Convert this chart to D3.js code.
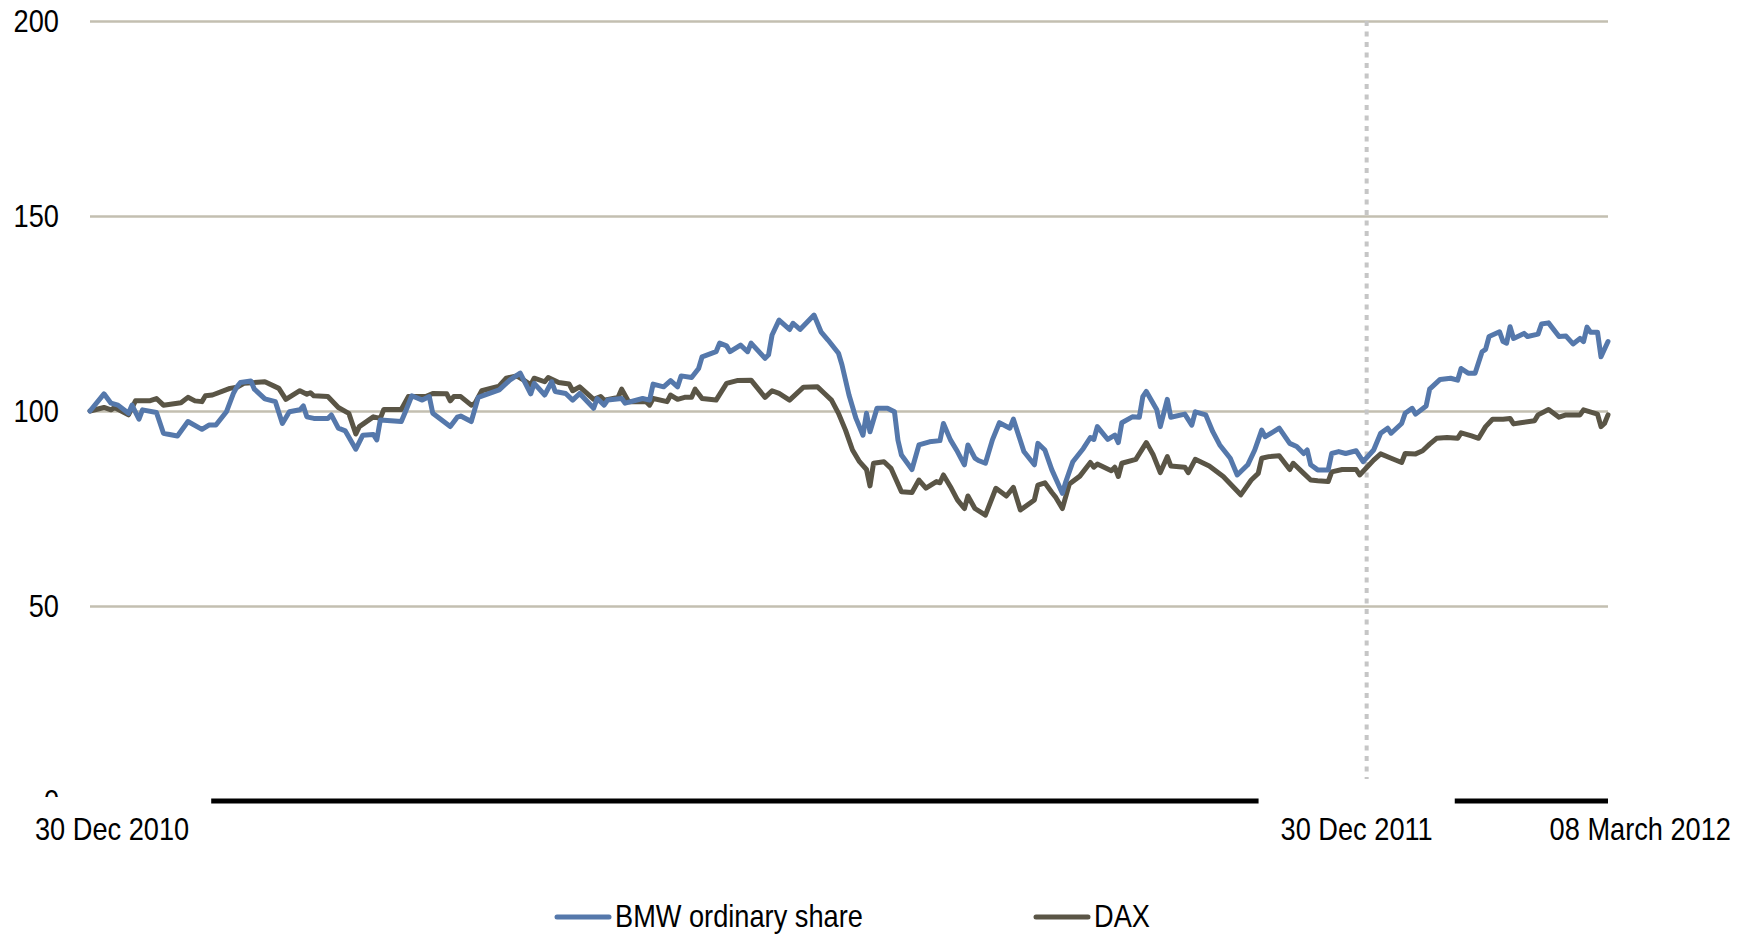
<!DOCTYPE html>
<html>
<head>
<meta charset="utf-8">
<script src="https://cdn.jsdelivr.net/npm/d3@7"></script>
<style>
  html, body { margin: 0; padding: 0; background: #fff; }
  svg { display: block; }
  .t { font-family: "Liberation Sans", Arial, sans-serif; fill: #000; }
</style>
</head>
<body>
<svg id="chart" width="1753" height="935"></svg>
<script>
// ---- data (days after 30 Dec 2010, index value) ----
const startDate = new Date(2010, 11, 30);
const endDate = new Date(2012, 2, 8);

const bmwDays = [0,4,6,8,11,12,14,15,19,21,22,25,28,32,34,36,39,41,42,43,46,47,50,53,55,57,60,61,62,64,68,69,71,73,76,78,81,82,83,89,90,92,95,97,98,103,105,106,109,111,117,120,123,126,127,130,132,133,136,138,140,144,145,147,148,152,153,158,160,161,164,166,168,169,172,174,175,179,180,182,183,186,188,189,193,194,195,197,200,201,203,207,209,211,214,215,217,219,221,222,223,225,228,230,231,232,235,237,240,243,244,246,248,250,251,253,254,256,258,260,263,264,267,270,271,273,275,278,279,281,284,286,287,288,291,293,294,295,298,300,301,302,305,306,308,309,313,315,316,319,321,323,326,328,331,333,335,336,340,343,345,347,348,349,351,354,355,357,359,362,364,367,369,371,372,375,376,378,379,382,383,386,389,391,392,394,396,398,399,400,403,404,405,406,407,410,411,414,415,417,420,422,424,426,427,428,429,431,432,434];
const bmwValues = [100,104.4,102,101.5,99.4,101.5,97.9,100.3,99.6,94.3,94.1,93.6,97.3,95.3,96.4,96.4,99.8,104.5,106.2,107.3,107.7,105.6,103.1,102.4,96.8,99.8,100.3,101.3,98.5,98.1,98.1,99,95.6,94.9,90.2,93.8,94,92.6,97.7,97.3,99.4,103.9,102.8,103.7,99.4,96,98.4,98.7,97.3,103.5,105.4,107.9,109.7,104.4,107.1,104.1,107.5,105,104.5,102.8,104.5,100.7,103.2,101.5,102.8,103.2,102,103.2,102.8,106.9,106.2,107.8,106.2,109,108.6,110.9,113.9,115.2,117.4,116.7,115.2,116.9,115.2,117.4,113.5,114.4,119.5,123.3,120.9,122.5,120.9,124.6,120.3,118.2,114.8,111.8,104.1,98.1,93.8,99.4,94.7,100.7,100.7,99.8,92.5,88.7,85,91.3,92.1,92.4,96.8,92.6,89.6,86.2,91.3,87.9,87.3,86.6,92.6,97,95.6,97.9,89.6,86.2,91.7,90,84.9,78.9,81.9,87,90.4,93.2,92.7,96,92.7,93.8,91.9,97,98.5,98.4,103.7,105,100.3,96,103,98.4,99.2,96.4,99.8,99,94.7,91.3,87.9,83.6,86.2,90,95.1,93.4,95.6,91.7,90.9,89.1,90,86.2,84.9,84.9,89.1,89.6,89.1,89.8,87,90,94.3,95.6,94.3,96.8,99.4,100.7,99.2,101.3,105.6,108.1,108.4,107.9,110.9,109.7,109.7,115.2,115.8,119.1,120.3,117.8,117.4,121.6,118.6,119.9,119.1,119.7,122.3,122.6,119.1,119.2,117.2,118.6,117.8,121.5,120.2,120.2,113.9,117.8];

const daxDays = [0,4,6,7,11,13,17,19,21,26,28,30,32,33,35,40,42,44,50,54,56,60,62,63,64,68,71,74,76,77,81,83,84,89,91,96,98,102,103,104,106,109,110,112,117,119,122,124,126,127,130,131,134,137,138,140,144,146,147,151,152,154,159,160,161,165,166,168,170,172,173,175,179,182,185,189,193,195,197,200,204,208,210,212,214,216,218,220,222,223,224,227,229,232,235,237,239,242,243,244,246,248,250,251,253,256,259,262,264,266,270,271,273,275,276,278,280,283,286,287,288,292,293,294,295,299,302,304,306,308,309,313,314,316,320,324,329,332,334,335,337,340,343,344,347,349,351,354,355,358,362,363,367,369,372,375,376,379,381,383,385,388,391,392,395,397,399,401,404,406,407,409,413,414,417,420,422,426,427,431,432,433,434];
const daxValues = [100,100.9,100.3,100.9,99,102.6,102.6,103.2,101.5,102.1,103.5,102.6,102.4,103.9,104.1,105.8,106.1,107.1,107.5,105.8,103,105.2,104.3,104.7,103.9,103.7,100.9,99.4,94.1,96,98.5,98.1,100.4,100.4,103.7,103.7,104.5,104.4,102.6,103.7,103.7,101.5,101.9,105.2,106.4,108.4,109,107.9,106.7,108.4,107.5,108.6,107.3,106.9,105.2,106.2,103,103.7,102.8,103.5,105.6,102.4,102.4,101.5,103.2,102.4,104.1,103,103.5,103.5,105.6,103.2,102.8,107.1,107.8,107.9,103.5,105.2,104.5,102.8,106.1,106.2,104.5,102.8,99.4,95.1,90,87,85,80.8,86.6,87,85.3,79.3,79.1,82.3,80.2,81.9,81.6,83.6,80.6,77.2,75,78.2,75,73.3,80.2,78.2,80.4,74.6,77.2,81,81.6,79.1,78,75,81.3,83.3,86.8,85.6,86.4,84.7,85.6,83.2,86.6,87.6,91.9,88.7,84.2,88.3,85.9,85.6,84.2,87.6,85.9,83.2,78.5,82.3,84,87.9,88.3,88.5,85,86.6,84,82.3,82.1,81.9,84.4,85,85,83.6,87.4,89,87.9,86.8,89.1,89,89.8,91.5,93,93.2,93,94.4,93.6,93,96,97.9,97.9,98.1,96.7,97,97.5,99,100.4,98.4,99,99,100.3,99.2,96,96.8,99];

const yTicks = [0, 50, 100, 150, 200];
const xLabelDates = [new Date(2010, 11, 30), new Date(2011, 11, 30), new Date(2012, 2, 8)];
const xLabels = ["30 Dec 2010", "30 Dec 2011", "08 March 2012"];
const markerDate = new Date(2011, 11, 30);
const seriesNames = ["BMW ordinary share", "DAX"];
const seriesColors = ["#5578ab", "#5a5546"];

// ---- drawing ----
const svg = d3.select("#chart");
const pL = 90, pR = 1608, pT = 21, pB = 801;
const x = d3.scaleTime().domain([startDate, endDate]).range([pL, pR]);
const y = d3.scaleLinear().domain([0, 200]).range([pB, pT]);
const fontSize = 32;
const SX = 0.85; // condensed look

function squeeze(sel) {
  sel.each(function () {
    const ax = +this.getAttribute("x") || 0;
    this.setAttribute("transform", `translate(${ax},0) scale(${SX},1) translate(${-ax},0)`);
  });
}

// y axis with gridlines
const yAxis = d3.axisLeft(y).tickValues(yTicks).tickSize(-(pR - pL)).tickPadding(31).tickFormat(d3.format("d"));
const gy = svg.append("g").attr("transform", `translate(${pL},0)`).call(yAxis);
gy.select(".domain").remove();
gy.selectAll(".tick line").attr("stroke", "#c3bfb1").attr("stroke-width", 2.5)
  .filter(d => d === 0).remove();
gy.selectAll(".tick text").attr("class", "t").style("font-size", fontSize + "px").attr("fill", "#000")
  .call(squeeze);

// dashed marker line
svg.append("line")
  .attr("x1", x(markerDate)).attr("x2", x(markerDate))
  .attr("y1", y(200)).attr("y2", 779)
  .attr("stroke", "#c6c6c6").attr("stroke-width", 4).attr("stroke-dasharray", "5,5.5");

// series lines
const toPts = (days, vals) => days.map((d, i) => ({date: d3.timeDay.offset(startDate, d), v: vals[i]}));
const line = d3.line().x(d => x(d.date)).y(d => y(d.v));
const series = [toPts(daxDays, daxValues), toPts(bmwDays, bmwValues)];
const colorsDraw = [seriesColors[1], seriesColors[0]];
series.forEach((s, i) => {
  svg.append("path").datum(s).attr("d", line)
    .attr("fill", "none").attr("stroke", colorsDraw[i]).attr("stroke-width", 5)
    .attr("stroke-linejoin", "round").attr("stroke-linecap", "round");
});

// x axis line
svg.append("line").attr("x1", pL).attr("x2", pR).attr("y1", pB).attr("y2", pB)
  .attr("stroke", "#000").attr("stroke-width", 5);

// x labels with white masks
const labelOffsets = [-55, -10, 0];
const labelAnchors = ["start", "middle", "end"];
const labelMask = [true, true, false];
xLabels.forEach((lab, i) => {
  const g = svg.append("g");
  const lx = i === 2 ? 1731 : x(xLabelDates[i]) + labelOffsets[i];
  const txt = g.append("text").attr("class", "t").style("font-size", fontSize + "px")
    .attr("x", lx).attr("y", 840).attr("text-anchor", labelAnchors[i]).text(lab);
  txt.call(squeeze);
  if (labelMask[i]) {
    const bb = txt.node().getBBox();
    const bx = lx + (bb.x - lx) * SX, bw = bb.width * SX;
    g.insert("rect", "text").attr("x", bx - 22).attr("y", 797).attr("width", bw + 44).attr("height", 50)
      .attr("fill", "#fff");
  }
});

// legend
const legendX = [557, 1036];
seriesNames.forEach((n, i) => {
  svg.append("line").attr("x1", legendX[i]).attr("x2", legendX[i] + 52).attr("y1", 917).attr("y2", 917)
    .attr("stroke", seriesColors[i]).attr("stroke-width", 5).attr("stroke-linecap", "round");
  svg.append("text").attr("class", "t").style("font-size", fontSize + "px")
    .attr("x", legendX[i] + 58).attr("y", 927).text(n).call(squeeze);
});
</script>
</body>
</html>
